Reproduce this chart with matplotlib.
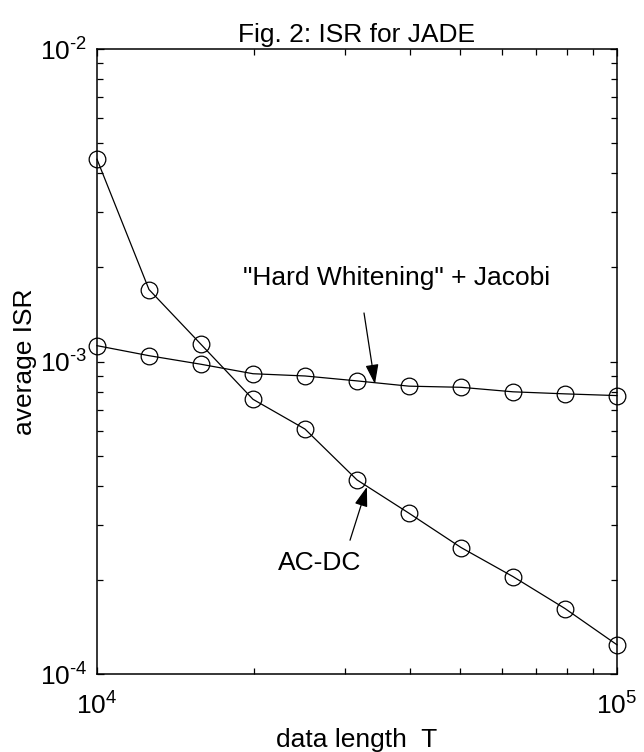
"""
Fig. 2: ISR for JADE
"""

import math

import matplotlib
matplotlib.use("Agg")
import matplotlib.pyplot as plt
from matplotlib.ticker import FuncFormatter, NullFormatter


# ==========================================================
# Data
# ==========================================================

data_length = [10000, 12589, 15849, 19953, 25119, 31623,
               39811, 50119, 63096, 79433, 100000]

isr_acdc = [4.44e-3, 1.70e-3, 1.135e-3, 7.57e-4, 6.08e-4, 4.18e-4,
            3.27e-4, 2.54e-4, 2.05e-4, 1.62e-4, 1.24e-4]

isr_jacobi = [1.124e-3, 1.044e-3, 9.8e-4, 9.14e-4, 8.99e-4, 8.67e-4,
              8.34e-4, 8.27e-4, 8.0e-4, 7.88e-4, 7.78e-4]


def power_label(value, pos):

    exponent = round(math.log10(value))

    # hyphen instead of the mathtext minus sign
    text = str(abs(exponent))
    if exponent < 0:
        text = "\u2010" + text

    return "10$^{%s}$" % text


# ==========================================================
# Plot
# ==========================================================

plt.rcParams["font.family"] = ["Liberation Sans", "DejaVu Sans"]
plt.rcParams["mathtext.default"] = "regular"
plt.rcParams["axes.unicode_minus"] = False

fig = plt.figure(figsize=(6.44, 7.52), dpi=100)

ax = fig.add_axes([0.1506, 0.1037, 0.8075, 0.8311])

for series in (isr_acdc, isr_jacobi):

    ax.plot(
        data_length,
        series,
        color="black",
        linewidth=0.9,
        marker="o",
        markersize=12,
        markerfacecolor="none",
        markeredgecolor="black",
        markeredgewidth=0.9,
        clip_on=False
    )

ax.set_xscale("log")
ax.set_yscale("log")

ax.set_xlim(1e4, 1e5)
ax.set_ylim(1e-4, 1e-2)

ax.xaxis.set_major_formatter(FuncFormatter(power_label))
ax.yaxis.set_major_formatter(FuncFormatter(power_label))
ax.xaxis.set_minor_formatter(NullFormatter())
ax.yaxis.set_minor_formatter(NullFormatter())

ax.tick_params(
    which="both",
    direction="in",
    top=True,
    right=True,
    width=0.9,
    labelsize=19
)
ax.tick_params(which="major", length=5)
ax.tick_params(which="minor", length=4)
ax.tick_params(axis="x", which="major", pad=13)
ax.tick_params(axis="y", which="major", pad=7)

for spine in ax.spines.values():
    spine.set_linewidth(1.1)

ax.set_title("Fig. 2: ISR for JADE", fontsize=19, pad=5)

ax.set_xlabel("data length  T", fontsize=19, labelpad=6)

ax.set_ylabel("average ISR", fontsize=19, labelpad=2)

head = "-|>,head_length=1.2,head_width=0.4"

ax.text(
    19090, 1.85e-3,
    "\"Hard Whitening\" + Jacobi",
    fontsize=19,
    va="center",
    ha="left"
)

ax.annotate(
    "",
    xy=(34240, 8.47e-4),
    xytext=(32620, 1.43e-3),
    arrowprops=dict(
        arrowstyle=head,
        color="black",
        linewidth=0.9,
        shrinkA=0,
        shrinkB=0
    )
)

ax.text(22290, 2.265e-4, "AC-DC", fontsize=19, va="center", ha="left")

ax.annotate(
    "",
    xy=(33040, 3.97e-4),
    xytext=(30660, 2.68e-4),
    arrowprops=dict(
        arrowstyle=head,
        color="black",
        linewidth=0.9,
        shrinkA=0,
        shrinkB=0
    )
)

fig.savefig("out.png", dpi=100)

plt.close(fig)
